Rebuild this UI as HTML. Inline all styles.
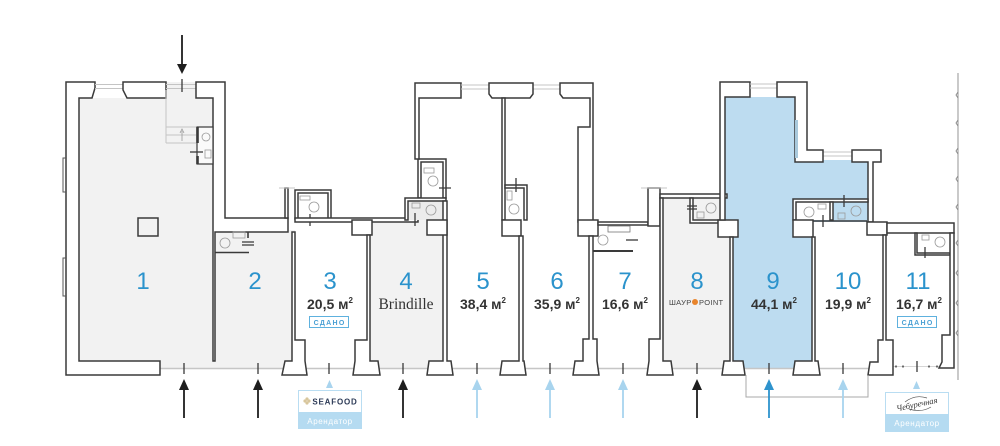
<!DOCTYPE html>
<html><head><meta charset="utf-8"><title>plan</title>
<style>
html,body{margin:0;padding:0;background:#fff;width:1000px;height:446px;overflow:hidden;}
svg{display:block;}
.w{fill:#fff;stroke:#3a3a3a;stroke-width:1.5;}
.wg{fill:#f2f2f2;stroke:#3a3a3a;stroke-width:1.5;}
.lt{fill:none;stroke:#c4c4c4;stroke-width:1;}
.fx{fill:none;stroke:#9a9a9a;stroke-width:0.8;}
.tk{stroke:#3a3a3a;stroke-width:1.3;fill:none;}
.num{font-family:"Liberation Sans",sans-serif;font-size:24px;fill:#2b93cc;text-anchor:middle;}
.ar{font-family:"Liberation Sans","DejaVu Sans",sans-serif;font-size:14px;font-weight:bold;fill:#333;text-anchor:middle;}
.sd{font-family:"Liberation Sans","DejaVu Sans",sans-serif;font-size:7px;font-weight:bold;fill:#4aa0d4;text-anchor:middle;letter-spacing:1.3px;}
.rent{font-family:"Liberation Sans","DejaVu Sans",sans-serif;font-size:8px;fill:#fff;text-anchor:middle;letter-spacing:0.6px;}
</style></head><body>
<svg width="1000" height="446" viewBox="0 0 1000 446" xmlns="http://www.w3.org/2000/svg">
<!-- fills -->
<path fill="#f2f2f2" d="M79,98 H166 V82 H196 V98 H213 V368 H79 Z"/>
<rect fill="#f2f2f2" x="213" y="230" width="82" height="138"/>
<rect fill="#f2f2f2" x="368" y="220" width="78" height="148"/>
<rect fill="#f2f2f2" x="660" y="196" width="72" height="172"/>
<path fill="#bddcf0" d="M723,97 H795 V160 H870 V222 H813 V368 H732 V222 H723 Z"/>

<!-- facade glass -->
<path d="M160,368.5 H870" stroke="#c6c6c6" stroke-width="1.6" fill="none"/>
<path d="M892,366.5 H940" stroke="#d6d6d6" stroke-width="1" fill="none"/>
<g fill="#666"><circle cx="896" cy="366.5" r="1.1"/><circle cx="903" cy="366.5" r="1.1"/><circle cx="929" cy="366.5" r="1.1"/><circle cx="937" cy="366.5" r="1.1"/></g>

<!-- unit 1 details -->
<rect x="76" y="120" width="3" height="75" fill="#e2e2e2"/>
<rect x="76" y="250" width="3" height="80" fill="#e2e2e2"/>
<path class="w" d="M66,82 H95 V88 L92,98 H79 V361 H160 V375 H66 Z"/>
<path d="M66,158 H63 V192 H66 M66,258 H63 V296 H66" stroke="#555" stroke-width="1" fill="none"/>
<path class="lt" d="M95,84.5 H123 M95,88.5 H123"/>
<path class="w" d="M123,82 H166 V98 H127 L123,90 Z"/>
<path class="lt" d="M166,84.5 H196 M166,88.5 H196 M166,90 V143 M166,127 H196 M166,135 H196 M166,143 H196"/>
<path class="tk" d="M182,79 V92"/>
<path d="M182,131 V141 M180,133 L182,129 L184,133" stroke="#999" stroke-width="0.8" fill="none"/>
<path class="w" d="M196,82 H225 V218 H288 V232 H215 V361 H213 V98 H196 Z"/>
<rect x="197" y="127" width="16" height="37" fill="#fafafa" stroke="#3a3a3a" stroke-width="1.2"/>
<path d="M197.5,127 V143 M197.5,156 V164" stroke="#3a3a3a" stroke-width="2.6"/>
<circle class="fx" cx="206" cy="137" r="4"/>
<rect class="fx" x="205" y="150" width="6" height="8"/>
<path class="tk" d="M190,152 H203"/>
<rect x="138" y="218" width="20" height="18" fill="none" stroke="#3a3a3a" stroke-width="1.5"/>

<!-- unit 2 toilet -->
<path d="M215,252.5 H249 M248,232 V238" stroke="#3a3a3a" stroke-width="1.6" fill="none"/>
<rect class="fx" x="233" y="232" width="12" height="6"/>
<circle class="fx" cx="225" cy="243" r="5"/>
<path class="tk" d="M242,242 H254 M242,245 H254" stroke-width="1"/>

<!-- wall 2/3 -->
<path class="w" d="M292,232 H295 V340 H305 V361 L307,375 H282 L285,361 H292 Z"/>
<rect class="w" x="285" y="188" width="3" height="30"/>
<path class="lt" d="M279,188 H295"/>
<!-- unit 3 toilet + top -->
<path class="w" d="M295,190 H331 V219 H328 V193 H298 V219 H295 Z"/>
<rect class="fx" x="300" y="196" width="10" height="4"/>
<circle class="fx" cx="314" cy="207" r="5"/>
<path class="tk" d="M310,214 V226"/>
<rect class="w" x="295" y="218" width="123" height="4"/>
<rect class="w" x="352" y="220" width="20" height="15"/>
<path class="w" d="M367,235 H370 V361 H378 L380,375 H353 L355,361 V340 H367 Z"/>

<!-- unit 4 toilets -->
<rect x="408" y="201" width="35" height="19" fill="#ececec"/>
<path class="w" d="M418,159 H446 V198 H443 V162 H421 V198 H418 Z"/>
<path class="w" d="M405,198 H446 V201 H408 V220 H405 Z"/>
<circle class="fx" cx="433" cy="181" r="5"/>
<rect class="fx" x="424" y="168" width="10" height="5"/>
<circle class="fx" cx="431" cy="210" r="5"/>
<rect class="fx" x="412" y="203" width="8" height="5"/>
<path class="tk" d="M439,188 H451 M415,213 V226"/>
<path class="w" d="M443,201 H447 V361 H451 L453,375 H427 L429,361 H443 Z"/>
<rect class="w" x="427" y="220" width="20" height="15"/>

<!-- unit 5/6 top -->
<path class="w" d="M415,83 H461 V98 H419 V159 H415 Z"/>
<path class="lt" d="M461,85 H489 M461,89 H489 M533,85 H560 M533,89 H560"/>
<path class="w" d="M489,83 H533 V94 L530,98 H492 L489,94 Z"/>
<path class="w" d="M560,83 H593 V222 H578 V127 H590 V98 H563 L560,94 Z"/>
<rect class="w" x="502" y="98" width="3" height="122"/>
<path class="w" d="M505,185 H527 V220 H524 V188 H505 Z"/>
<rect class="fx" x="507" y="191" width="5" height="9"/>
<circle class="fx" cx="514" cy="209" r="5"/>
<path class="tk" d="M516,178 V192"/>
<rect class="w" x="502" y="220" width="19" height="16"/>
<path class="w" d="M519,236 H523 V361 H524 L526,375 H500 L502,361 H519 Z"/>

<!-- unit 7 -->
<rect class="w" x="578" y="220" width="20" height="16"/>
<rect class="w" x="598" y="222" width="50" height="3"/>
<rect class="w" x="648" y="188" width="12" height="38"/>
<path class="lt" d="M641,188 H667"/>
<rect x="608" y="226" width="22" height="6" fill="none" stroke="#777" stroke-width="0.8"/>
<path d="M593,251 H633" stroke="#3a3a3a" stroke-width="2"/>
<circle class="fx" cx="603" cy="240" r="5"/>
<path class="tk" d="M626,240 H638"/>
<path class="w" d="M589,236 H593 V339 H597 V361 L599,375 H573 L575,361 H583 V339 H589 Z"/>

<!-- unit 8 -->
<rect class="w" x="660" y="194" width="67" height="4"/>
<path class="w" d="M660,198 H663 V361 H671 L673,375 H647 L649,361 V339 H660 Z"/>
<path class="w" d="M690,198 H693 V220 H723 V223 H690 Z"/>
<circle class="fx" cx="711" cy="208" r="5"/>
<rect class="fx" x="697" y="212" width="7" height="6"/>
<path class="tk" d="M687,206 H697 M687,209 H697" stroke-width="1"/>
<rect class="w" x="718" y="220" width="20" height="17"/>
<path class="w" d="M730,237 H733 V361 H743 L745,375 H722 L724,361 H730 Z"/>

<!-- unit 9 -->
<path class="w" d="M720,82 H750 V97 H725 V220 H720 Z"/>
<path class="lt" d="M750,84 H777 M750,88 H777 M823,152 H852 M823,156 H852"/>
<path class="w" d="M777,82 H807 V150 H823 V162 H795 V97 H777 Z"/>
<rect x="795" y="120" width="3" height="38" fill="#a9c9dc"/>
<path class="w" d="M852,150 H881 V162 H873 V222 H868 V162 H852 Z"/>
<rect x="796" y="202" width="34" height="18" fill="#fff"/>
<path class="w" d="M793,199 H868 V202 H796 V220 H793 Z"/>
<rect class="w" x="830" y="202" width="3" height="18"/>
<circle class="fx" cx="809" cy="212" r="5"/>
<rect class="fx" x="818" y="204" width="8" height="5"/>
<circle class="fx" cx="856" cy="211" r="5" stroke="#6a8aa0"/>
<rect class="fx" x="838" y="213" width="7" height="6" stroke="#6a8aa0"/>
<path class="tk" d="M844,195 V207 M823,215 V227"/>
<path d="M813,221 H867" stroke="#3a3a3a" stroke-width="1.5"/>
<rect class="w" x="793" y="220" width="20" height="17"/>
<rect class="w" x="867" y="222" width="20" height="13"/>
<path class="w" d="M812,237 H815 V361 H818 L820,375 H793 L795,361 H812 Z"/>

<!-- unit 10/11 -->
<path class="w" d="M883,235 H886 V340 H893 V375 H868 L870,362 H878 V340 H883 Z"/>
<rect class="w" x="887" y="223" width="67" height="10"/>
<path class="w" d="M915,233 H917 V253 H950 V255 H915 Z"/>
<circle class="fx" cx="940" cy="242" r="5"/>
<rect class="fx" x="922" y="235" width="7" height="5"/>
<path class="tk" d="M925,247 V258"/>
<path class="w" d="M950,233 H954 V368 H939 L942,362 V335 H950 Z"/>
<path d="M958,73 V380" stroke="#888" stroke-width="0.9" fill="none"/>
<path d="M958,92 l-2,3 l2,3 M958,120 l-2,3 l2,3 M958,148 l-2,3 l2,3 M958,176 l-2,3 l2,3 M958,204 l-2,3 l2,3 M958,240 l-2,3 l2,3 M958,270 l-2,3 l2,3 M958,300 l-2,3 l2,3 M958,330 l-2,3 l2,3" stroke="#888" stroke-width="0.9" fill="none"/>

<!-- door ticks -->
<path class="tk" d="M184,363 V374 M258,363 V374 M329,363 V374 M403,363 V374 M477,363 V374 M550,363 V374 M623,363 V374 M697,363 V374 M769,363 V374 M843,363 V374 M917,361 V372"/>

<!-- bracket -->
<path d="M746,375 V397 H868 V375" stroke="#a8a8a8" stroke-width="1" fill="none"/>

<!-- top arrow -->
<path d="M182,35 V66" stroke="#1e1e1e" stroke-width="1.8"/>
<polygon points="177,64 187,64 182,74" fill="#1e1e1e"/>

<!-- bottom arrows -->
<g stroke-width="1.8">
<g stroke="#1e1e1e" fill="#1e1e1e">
<path d="M184,388 V418"/><polygon points="179,390 189,390 184,379" stroke="none"/>
<path d="M258,388 V418"/><polygon points="253,390 263,390 258,379" stroke="none"/>
<path d="M403,388 V418"/><polygon points="398,390 408,390 403,379" stroke="none"/>
<path d="M697,388 V418"/><polygon points="692,390 702,390 697,379" stroke="none"/>
</g>
<g stroke="#a8d4ee" fill="#a8d4ee">
<path d="M477,388 V418"/><polygon points="472,390 482,390 477,379" stroke="none"/>
<path d="M550,388 V418"/><polygon points="545,390 555,390 550,379" stroke="none"/>
<path d="M623,388 V418"/><polygon points="618,390 628,390 623,379" stroke="none"/>
<path d="M843,388 V418"/><polygon points="838,390 848,390 843,379" stroke="none"/>
</g>
<g stroke="#2e93cd" fill="#2e93cd">
<path d="M769,388 V418"/><polygon points="764,390 774,390 769,379" stroke="none"/>
</g>
</g>

<!-- badges -->
<polygon points="326,388 333,388 329.5,380" fill="#a9d4ee"/>
<rect x="298.5" y="390.5" width="63" height="22" fill="#fff" stroke="#b9ddf2"/>
<rect x="298.5" y="412.5" width="63" height="16" fill="#b5dbf1" stroke="#b5dbf1"/>
<g fill="#d8c69c"><circle cx="305" cy="401" r="1.6"/><circle cx="309" cy="401" r="1.6"/><circle cx="307" cy="399" r="1.6"/><circle cx="307" cy="403" r="1.6"/></g>
<text x="335" y="404.5" font-family="Liberation Sans, sans-serif" font-size="8" font-weight="bold" fill="#2d3b57" text-anchor="middle" letter-spacing="0.8">SEAFOOD</text>
<text class="rent" x="330" y="424">Арендатор</text>

<polygon points="913,389 920,389 916.5,381" fill="#a9d4ee"/>
<rect x="885.5" y="392.5" width="63" height="22" fill="#fff" stroke="#b9ddf2"/>
<rect x="885.5" y="414.5" width="63" height="17" fill="#b5dbf1" stroke="#b5dbf1"/>
<path d="M905,402 q10,-8 22,-4 M909,409 q12,4 22,-2" stroke="#555" stroke-width="0.7" fill="none"/>
<text x="917" y="407" font-family="Liberation Serif, serif" font-style="italic" font-size="8.5" fill="#333" text-anchor="middle" transform="rotate(-12 917 405)">Чебуречная</text>
<text class="rent" x="917" y="426">Арендатор</text>

<!-- numbers -->
<text class="num" x="143" y="289">1</text>
<text class="num" x="255" y="289">2</text>
<text class="num" x="330" y="289">3</text>
<text class="num" x="406" y="289">4</text>
<text class="num" x="483" y="289">5</text>
<text class="num" x="557" y="289">6</text>
<text class="num" x="625" y="289">7</text>
<text class="num" x="697" y="289">8</text>
<text class="num" x="773" y="289">9</text>
<text class="num" x="848" y="289">10</text>
<text class="num" x="918" y="289">11</text>

<!-- areas -->
<text class="ar" x="330" y="309">20,5 м<tspan font-size="8" dy="-6">2</tspan></text>
<text class="ar" x="483" y="309">38,4 м<tspan font-size="8" dy="-6">2</tspan></text>
<text class="ar" x="557" y="309">35,9 м<tspan font-size="8" dy="-6">2</tspan></text>
<text class="ar" x="625" y="309">16,6 м<tspan font-size="8" dy="-6">2</tspan></text>
<text class="ar" x="774" y="309">44,1 м<tspan font-size="8" dy="-6">2</tspan></text>
<text class="ar" x="848" y="309">19,9 м<tspan font-size="8" dy="-6">2</tspan></text>
<text class="ar" x="919" y="309">16,7 м<tspan font-size="8" dy="-6">2</tspan></text>

<text x="406" y="309" font-family="Liberation Serif, serif" font-size="15.5" fill="#333" text-anchor="middle">Brindille</text>

<text x="669" y="305" font-family="Liberation Sans, DejaVu Sans, sans-serif" font-size="7.5" fill="#444" letter-spacing="0.3">ШАУР</text>
<circle cx="695" cy="302" r="3" fill="#e8842c"/>
<text x="699" y="305" font-family="Liberation Sans, sans-serif" font-size="7.5" fill="#444" letter-spacing="0.3">POINT</text>

<!-- СДАНО -->
<rect x="309.5" y="316.5" width="39" height="11" fill="#fff" stroke="#5eb1de"/>
<text class="sd" x="329.6" y="325">СДАНО</text>
<rect x="897.5" y="316.5" width="39" height="11" fill="#fff" stroke="#5eb1de"/>
<text class="sd" x="917.6" y="325">СДАНО</text>
</svg>
</body></html>
